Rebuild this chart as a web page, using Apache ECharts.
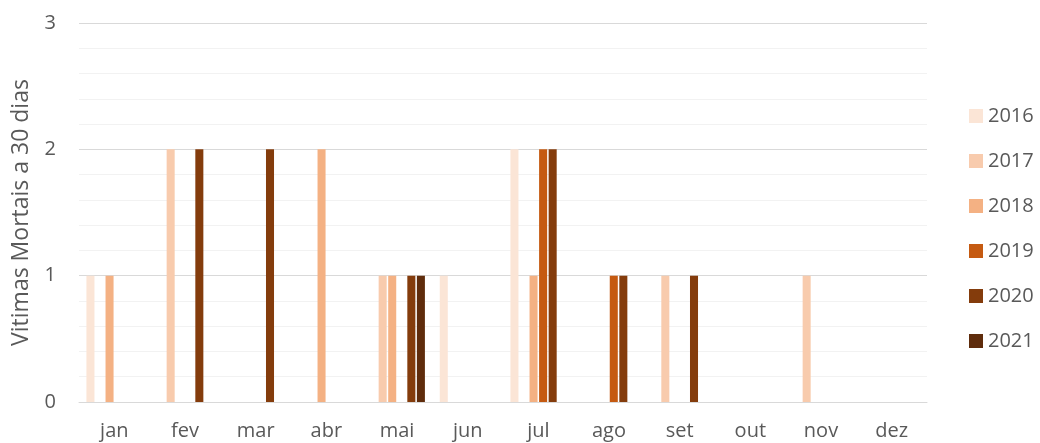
<!DOCTYPE html>
<html>
<head>
<meta charset="utf-8">
<script src="https://cdn.jsdelivr.net/npm/echarts@6/dist/echarts.min.js"></script>
<style>
  html, body { margin: 0; padding: 0; background: #ffffff; }
  #chart { width: 1040px; height: 443px; }
</style>
</head>
<body>
<div id="chart"></div>
<script>
// Months on the category axis
const months = ['jan', 'fev', 'mar', 'abr', 'mai', 'jun', 'jul', 'ago', 'set', 'out', 'nov', 'dez'];

// Deaths within 30 days, per month, one array per year (null = no bar)
const v2016 = [1, null, null, null, null, 1, 2, null, null, null, null, null];
const v2017 = [null, 2, null, null, 1, null, null, null, 1, null, 1, null];
const v2018 = [1, null, null, 2, 1, null, 1, null, null, null, null, null];
const v2019 = [null, null, null, null, null, null, 2, 1, null, null, null, null];
const v2020 = [null, 2, 2, null, 1, null, 2, 1, 1, null, null, null];
const v2021 = [null, null, null, null, 1, null, null, null, null, null, null, null];

const years = ['2016', '2017', '2018', '2019', '2020', '2021'];
const values = [v2016, v2017, v2018, v2019, v2020, v2021];
const colors = ['#fbe5d6', '#f8cbad', '#f4b183', '#c55a11', '#843c0c', '#5f2c0c'];

const yTicks = [0, 1, 2, 3];

const FONT = '"Open Sans", "Liberation Sans", sans-serif';
const TEXT = '#595959';

const chart = echarts.init(document.getElementById('chart'), null, { renderer: 'canvas' });

chart.setOption({
  animation: false,
  backgroundColor: '#ffffff',
  textStyle: { fontFamily: FONT, color: TEXT },
  grid: { left: 79, right: 113, top: 23, bottom: 41 },
  legend: {
    orient: 'vertical',
    left: 969,
    top: 106,
    padding: 0,
    itemWidth: 14,
    itemHeight: 14,
    itemGap: 25,
    icon: 'rect',
    textStyle: { fontFamily: FONT, fontSize: 20, color: TEXT },
    data: years
  },
  xAxis: {
    type: 'category',
    data: months,
    axisLine: { show: true, lineStyle: { color: '#d9d9d9', width: 1 } },
    axisTick: { show: false },
    axisLabel: { fontFamily: FONT, fontSize: 20, color: TEXT, margin: 19 }
  },
  yAxis: {
    type: 'value',
    min: yTicks[0],
    max: yTicks[yTicks.length - 1],
    interval: 1,
    name: 'Vitimas Mortais a 30 dias',
    nameLocation: 'middle',
    nameRotate: 90,
    nameGap: 46,
    nameTextStyle: { fontFamily: FONT, fontSize: 23, color: TEXT },
    axisLine: { show: false },
    axisTick: { show: false },
    axisLabel: { fontFamily: FONT, fontSize: 20, color: TEXT, margin: 23 },
    splitLine: { show: true, lineStyle: { color: '#d9d9d9', width: 1 } },
    minorTick: { show: false, splitNumber: 5 },
    minorSplitLine: { show: true, lineStyle: { color: '#f2f2f2', width: 1 } }
  },
  series: years.map((y, i) => ({
    name: y,
    type: 'bar',
    data: values[i],
    itemStyle: { color: colors[i] },
    barGap: '19%',
    barCategoryGap: '21%'
  }))
});
</script>
</body>
</html>
